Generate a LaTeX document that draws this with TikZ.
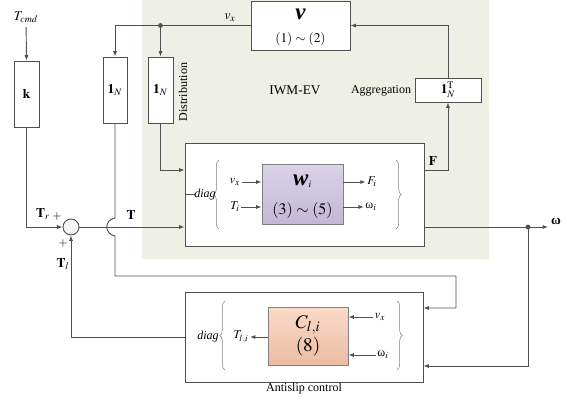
\documentclass[tikz,border=0pt]{standalone}
\usepackage{mathptmx}
\usepackage{fontspec}
\setmainfont{Liberation Serif}
\usetikzlibrary{arrows.meta,decorations.pathreplacing}
\definecolor{linec}{RGB}{80,80,80}
\definecolor{bgc}{RGB}{238,240,230}
\definecolor{purpT}{RGB}{218,210,232}
\definecolor{purpB}{RGB}{194,184,214}
\definecolor{orT}{RGB}{250,218,200}
\definecolor{orB}{RGB}{236,188,162}
\newcommand{\pu}{0.75pt}
\tikzset{
  blk/.style={draw=linec, fill=white, line width=0.7pt, inner sep=0pt},
  ln/.style={draw=linec, line width=0.7pt},
  arr/.style={ln, -{Latex[length=4pt,width=3pt]}},
  brc/.style={draw=gray, line width=0.4pt, decorate, decoration={brace, amplitude=4pt}},
  lbl/.style={font=\small, inner sep=1pt},
}
\begin{document}
\begin{tikzpicture}[x=0.75pt, y=-0.75pt, font=\normalsize]
    \useasboundingbox (0,0) rectangle (567,400);
    % IWM-EV
    \fill[bgc] (142,0) rectangle (489,259);
    \node at (295,90) {IWM-EV};

    % blocks
    \node[blk, minimum width=99*\pu, minimum height=49*\pu] (v) at (300.5,25.5) {};
    \node at (300.5,14) {\LARGE\textbf{\textit{v}}};
    \node at (300.5,39) {$(1)\sim(2)$};
    \node[blk, minimum width=25*\pu, minimum height=66*\pu] (k) at (26.5,94) {$\mathbf{k}$};
    \node[blk, minimum width=24*\pu, minimum height=66*\pu] (n1) at (115,90) {$\mathbf{1}_N$};
    \node[blk, minimum width=25*\pu, minimum height=66*\pu] (n2) at (160.5,90) {$\mathbf{1}_N$};
    \node[blk, minimum width=66*\pu, minimum height=24*\pu] (ag) at (448,90) {$\mathbf{1}_N^{\mathrm{T}}$};
    \node[blk, minimum width=239*\pu, minimum height=103*\pu] (W) at (304.5,194.5) {};
    \node[blk, draw=gray, top color=purpT, bottom color=purpB, minimum width=81*\pu, minimum height=60*\pu] (wi) at (302.5,194) {};
    \node at (302.5,181) {$\mbox{\LARGE\textbf{\textit{w}}}_i$};
    \node at (302.5,210) {\large$(3)\sim(5)$};
    \node[circle, draw=linec, line width=0.7pt, fill=gray!8, minimum size=16*\pu, inner sep=0pt] (sum) at (71,227) {};
    \node[blk, minimum width=238*\pu, minimum height=90*\pu] (as) at (304,337) {};
    \node[blk, draw=gray, top color=orT, bottom color=orB, minimum width=80*\pu, minimum height=58*\pu, align=center] (C) at (308,336) {\Large$C_{l,i}$\\[1pt]\Large$(8)$};

    % labels
    \node (tcmd) at (26,17) {$T_{cmd}$};
    \node at (230,18) {$v_x$};
    \node[lbl] at (381,91) {Aggregation};
    \node[lbl, rotate=90] at (183,92) {Distribution};
    \node at (433,161) {$\mathbf{F}$};
    \node at (131,215) {$\mathbf{T}$};
    \node at (43,214) {$\mathbf{T}_r$};
    \node[lbl] at (57,216) {$+$};
    \node[lbl] at (63,243) {$+$};
    \node at (63,264) {$\mathbf{T}_l$};
    \node (om) at (556,221) {\textbf{ω}};
    \coordinate (omt) at (548,227);
    \node[lbl] at (304,389) {Antislip control};

    % velocity path
    \draw[arr] (v.west) -| (n1.north);
    \fill[linec] (n2.north |- v.west) circle (1.8pt);
    \draw[arr] (n2.north |- v.west) -- (n2.north);
    \draw[arr] (n2.south) |- (W.west |- 0,170);
    \draw[arr] (W.east |- 0,170) -| (ag.south);
    \draw[arr] (ag.north) |- (v.east);

    % torque path
    \draw[arr] (tcmd) -- (k.north);
    \draw[arr] (k.south) |- (sum.west);
    \draw[arr] (sum.east) -- (W.west |- sum.east);
    \draw[ln] (W.west) -- ++(10,0);
    \draw[arr] (n1.south) -- (n1.south |- 0,218) .. controls (104,220) and (104,234) .. (n1.south |- 0,236) |- (456,276) |- (as.east |- 0,308);
    \coordinate (jn) at (528,227);
    \draw[arr] (W.east |- jn) -- (omt);
    \fill[linec] (jn) circle (1.8pt);
    \draw[arr] (jn) |- (as.east |- 0,366);
    \draw[arr] (as.west) -| (sum.south);

    % wheel model
    \draw[brc] (219,229) -- (219,160);
    \draw[brc] (396,160) -- (396,229);
    \node[lbl] at (205,195) {\textit{diag}};
    \node[lbl] (vxi) at (235,182) {$v_x$};
    \node[lbl] (ti) at (235,207) {$T_i$};
    \node[lbl] (fi) at (372,182) {$F_i$};
    \node[lbl] (omi) at (371,207) {ω$_i$};
    \draw[arr] (vxi.east) -- (wi.west |- vxi.east);
    \draw[arr] (ti.east) -- (wi.west |- ti.east);
    \draw[arr] (wi.east |- fi.west) -- (fi.west);
    \draw[arr] (wi.east |- omi.west) -- (omi.west);

    % antislip
    \draw[brc] (225,370) -- (225,301);
    \draw[brc] (397,301) -- (397,370);
    \node[lbl] at (208,337) {\textit{diag}};
    \node[lbl] (tli) at (241,337) {$T_{l,i}$};
    \node[lbl] (vxa) at (380,317) {$v_x$};
    \node[lbl] (oma) at (383,355) {ω$_i$};
    \draw[arr] (C.west |- tli.east) -- (tli.east);
    \draw[arr] (vxa.west) -- (C.east |- vxa.west);
    \draw[arr] (oma.west) -- (C.east |- oma.west);
\end{tikzpicture}
\end{document}
